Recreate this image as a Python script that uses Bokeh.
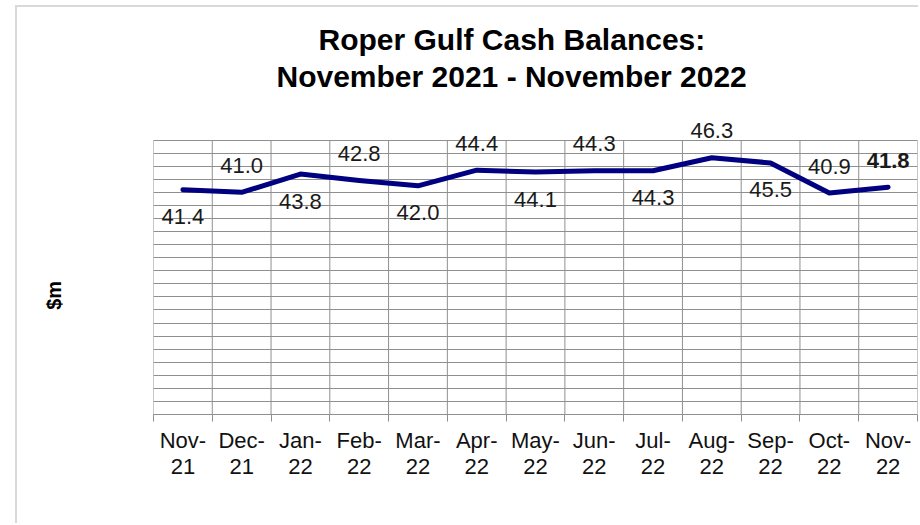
from bokeh.plotting import figure
from bokeh.models import ColumnDataSource, FixedTicker, Range1d, Title
from bokeh.core.properties import value
from bokeh.embed import file_html
from bokeh.resources import INLINE

# ---- data ----
months = ["Nov-21", "Dec-21", "Jan-22", "Feb-22", "Mar-22", "Apr-22", "May-22",
          "Jun-22", "Jul-22", "Aug-22", "Sep-22", "Oct-22", "Nov-22"]
balances = [41.4, 41.0, 43.8, 42.8, 42.0, 44.4, 44.1, 44.3, 44.3, 46.3, 45.5, 40.9, 41.8]
title_lines = ["Roper Gulf Cash Balances:", "November 2021 - November 2022"]
y_label = "$m"
y_min, y_max, y_step = 7, 49, 2
y_view_top = 52   # headroom so labels above the grid are not clipped

FONT = "Liberation Sans"
n = len(months)
xc = [i + 0.5 for i in range(n)]
bounds = list(range(n + 1))

p = figure(width=903, height=518,
           x_range=Range1d(0, n), y_range=Range1d(y_min, y_view_top),
           output_backend="svg", toolbar_location=None,
           min_border_left=136, min_border_right=3,
           min_border_top=113, min_border_bottom=111)
p.margin = (5, 0, 0, 15)
p.styles = {"border-top": "2px solid #d9d9d9", "border-left": "2px solid #d9d9d9"}
p.background_fill_color = "white"
p.border_fill_color = "white"
p.outline_line_color = None

grid_color = "#8f8f8f"
p.xgrid.visible = False
p.ygrid.ticker = FixedTicker(ticks=list(range(y_min, y_max + 1, y_step)))
p.ygrid.grid_line_color = grid_color
p.ygrid.grid_line_width = 1

# vertical grid lines limited to the gridded area
p.segment(x0=bounds, y0=[y_min] * len(bounds), x1=bounds, y1=[y_max] * len(bounds),
          line_color=grid_color, line_width=1)

ax = p.xaxis[0]
ax.ticker = FixedTicker(ticks=xc, minor_ticks=bounds)
ax.major_label_overrides = {x: m.replace("-", "-\n") for x, m in zip(xc, months)}
ax.major_tick_out = 0
ax.major_tick_in = 0
ax.minor_tick_out = 7
ax.minor_tick_in = 0
ax.minor_tick_line_color = grid_color
ax.axis_line_color = grid_color
ax.major_label_text_font = FONT
ax.major_label_text_font_size = "22px"
ax.major_label_text_color = "#111111"
ax.major_label_text_line_height = 1.05
ax.major_label_standoff = 6

yax = p.yaxis[0]
yax.ticker = FixedTicker(ticks=[])
yax.axis_line_color = None
yax.major_tick_line_color = None
yax.minor_tick_line_color = None
yax.axis_label = y_label + " " * 10
yax.axis_label_text_font = FONT
yax.axis_label_text_font_size = "20px"
yax.axis_label_text_font_style = "bold"
yax.axis_label_text_color = "#000000"
yax.axis_label_standoff = 89

p.line(xc, balances, line_width=5, line_color="#000080",
       line_cap="round", line_join="round")

offsets = []
styles = []
for i in range(n):
    above = (i % 2 == 1) or (i == n - 1)
    offsets.append(-27 if above else 27)
    styles.append("bold" if i == n - 1 else "normal")

src = ColumnDataSource(dict(x=xc, y=balances,
                            t=[f"{v:.1f}" for v in balances],
                            yo=offsets, fs=styles))
p.text(x="x", y="y", text="t", source=src, y_offset="yo",
       text_align="center", text_baseline="middle",
       text_font=value(FONT), text_font_size="22px",
       text_font_style="fs", text_color="#1a1a1a")

# titles stacked above the frame (later added = farther from frame)
p.add_layout(Title(text=" ", text_font_size="22px", standoff=0), "above")
p.add_layout(Title(text=title_lines[1], align="left", offset=123,
                   text_font=FONT, text_font_size="30px", text_font_style="bold",
                   text_color="#000000", standoff=2), "above")
p.add_layout(Title(text=title_lines[0], align="left", offset=165,
                   text_font=FONT, text_font_size="30px", text_font_style="bold",
                   text_color="#000000", standoff=2), "above")

open("out.html", "w").write(file_html(p, INLINE))
